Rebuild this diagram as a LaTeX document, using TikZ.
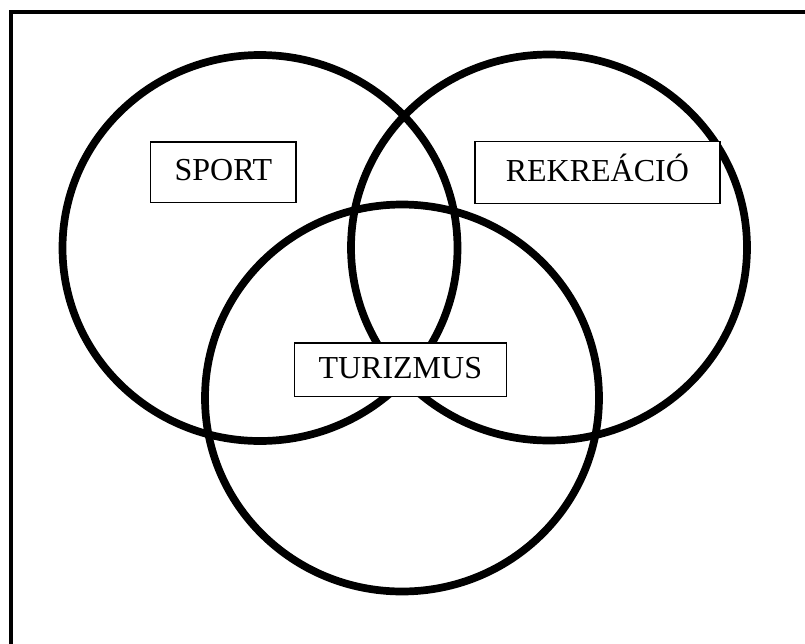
\documentclass[tikz,border=0pt]{standalone}
\usepackage{fontspec}
\setmainfont{Liberation Serif}
\begin{document}
\begin{tikzpicture}[
  x=1pt,y=-1pt,
  frame/.style={line width=4pt},
  set/.style={line width=7.7pt},
  tag/.style={draw,line width=1.5pt,fill=white,inner sep=0pt,text height=21pt,text depth=3.2pt,font=\fontsize{32}{38}\selectfont}
]
\useasboundingbox (0,0) rectangle (805,643);
\draw[frame] (10.5,700) |- (850,12);

\coordinate (sportc) at (260,248);
\coordinate (rekrc) at (549,247.5);
\coordinate (turc) at (402,398);

\draw[set] (sportc) ellipse [x radius=197.5,y radius=193];
\draw[set] (rekrc) ellipse [x radius=198,y radius=193];
\draw[set] (turc) ellipse [x radius=197,y radius=193.5];

\node[tag,minimum width=145.5pt,minimum height=60.5pt] (sport) at (223.4,172) {SPORT};
\node[tag,minimum width=245pt,minimum height=62pt] (rekr) at (597.3,172.5) {REKREÁCIÓ};
\node[tag,minimum width=212pt,minimum height=53.5pt] (tur) at (400.3,369.7) {TURIZMUS};
\end{tikzpicture}
\end{document}
